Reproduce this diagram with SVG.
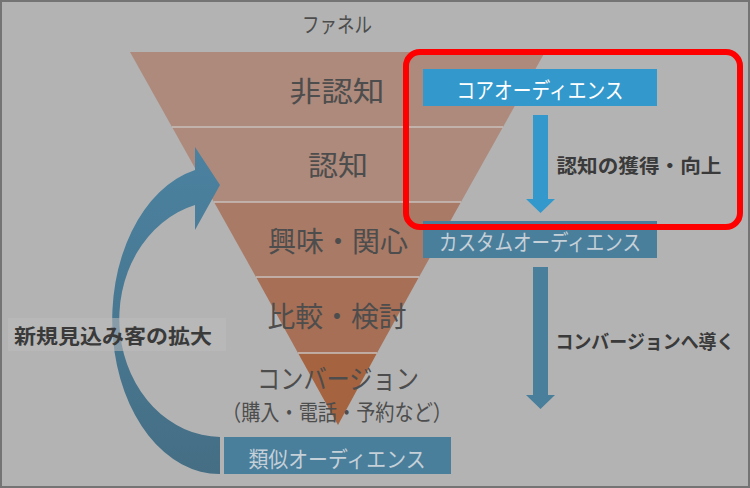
<svg xmlns="http://www.w3.org/2000/svg" width="750" height="488" viewBox="0 0 750 488">
<style>
text{font-family:"Noto Sans CJK JP","Noto Sans",sans-serif;dominant-baseline:central;text-anchor:middle}
.stage{font-size:28px;fill:#4d4d4d}
.sub{font-size:22px;fill:#4d4d4d}
.bold{font-size:19px;font-weight:bold;fill:#3a3a3a}
.boxt{font-size:22px}
.sep{stroke:#c8c0bc;stroke-width:1.5}
</style>
<defs>
<linearGradient id="curveGrad" x1="0" y1="0" x2="0" y2="1">
<stop offset="0" stop-color="#4b82a0"/>
<stop offset="1" stop-color="#456e84"/>
</linearGradient>
</defs>
<rect x="0" y="0" width="750" height="488" fill="#b3b3b3"/>
<rect x="1" y="1" width="748" height="486" fill="none" stroke="#747474" stroke-width="2"/>
<text x="337" y="23" class="sub" style="font-size:21px" textLength="70" lengthAdjust="spacingAndGlyphs">ファネル</text>

<g id="funnel">
<g id="stage-1"><polygon points="130,52 545,52 503,127 172,127" fill="#ad8a7c"/><text x="337" y="90" class="stage" textLength="95" lengthAdjust="spacingAndGlyphs">非認知</text></g>
<g id="stage-2"><polygon points="172,127 503,127 461,202 214,202" fill="#ad8a7c"/><text x="338" y="164" class="stage" textLength="60" lengthAdjust="spacingAndGlyphs">認知</text></g>
<g id="stage-3"><polygon points="214,202 461,202 419,277 256,277" fill="#a97a66"/><text x="338" y="240" class="stage" textLength="140" lengthAdjust="spacingAndGlyphs">興味・関心</text></g>
<g id="stage-4"><polygon points="256,277 419,277 377,353 298,353" fill="#a76f55"/><text x="337" y="315" class="stage" textLength="139" lengthAdjust="spacingAndGlyphs">比較・検討</text></g>
<g id="stage-5"><polygon points="298,353 377,353 338,425" fill="#a5633f"/><text x="338" y="377" class="stage" style="font-size:27px" textLength="162" lengthAdjust="spacingAndGlyphs">コンバージョン</text><text x="337" y="410" class="sub" textLength="230" lengthAdjust="spacingAndGlyphs">（購入・電話・予約など）</text></g>
<line class="sep" x1="172" y1="127" x2="503" y2="127"/>
<line class="sep" x1="214" y1="202" x2="461" y2="202"/>
<line class="sep" x1="256" y1="277" x2="419" y2="277"/>
<line class="sep" x1="298" y1="353" x2="377" y2="353"/>
</g>

<g id="connectors">
<path d="M195,170 A107,154 0 0 0 220,474 L220,437 A102,118 0 0 1 195,205 L195,230 L220,185 L195,147 Z" fill="url(#curveGrad)"/>
<polygon points="533,115 548,115 548,199 555,199 540.5,213 526,199 533,199" fill="#3399cc"/>
<polygon points="533,267 548,267 548,395 555,395 540.5,409 526,395 533,395" fill="#4a7f9c"/>
</g>

<g id="core-audience"><rect x="423" y="69" width="234" height="37" fill="#3399cc"/><text x="540" y="88" class="boxt" fill="#ffffff" textLength="167" lengthAdjust="spacingAndGlyphs">コアオーディエンス</text></g>
<g id="custom-audience"><rect x="423" y="221" width="234" height="37" fill="#4a7f9c"/><text x="540" y="240" class="boxt" fill="#c5d0d8" textLength="202" lengthAdjust="spacingAndGlyphs">カスタムオーディエンス</text></g>
<g id="similar-audience"><rect x="224" y="437" width="227" height="37" fill="#4a7f9c"/><text x="337" y="457" class="boxt" fill="#c5d0d8" textLength="177" lengthAdjust="spacingAndGlyphs">類似オーディエンス</text></g>

<g id="label-awareness"><text x="639" y="164" class="bold" textLength="165" lengthAdjust="spacingAndGlyphs">認知の獲得・向上</text></g>
<g id="label-conversion"><text x="645" y="340" class="bold" textLength="179" lengthAdjust="spacingAndGlyphs">コンバージョンへ導く</text></g>
<g id="label-expand"><rect x="8" y="318" width="218" height="33" fill="#bcbcbc" fill-opacity="0.55"/><text x="113" y="335" class="bold" style="font-size:20px" textLength="198" lengthAdjust="spacingAndGlyphs">新規見込み客の拡大</text></g>

<g id="highlight"><rect x="406" y="52" width="334" height="175" rx="14" fill="none" stroke="#ff0000" stroke-width="6"/></g>
</svg>
